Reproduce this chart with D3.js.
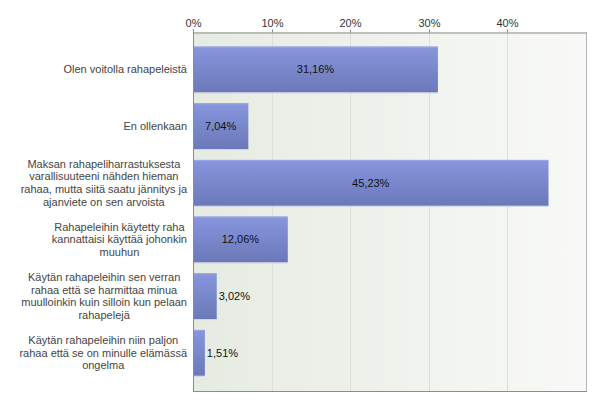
<!DOCTYPE html>
<html><head><meta charset="utf-8">
<script src="https://cdnjs.cloudflare.com/ajax/libs/d3/7.8.5/d3.min.js"></script>
<style>
html,body{margin:0;padding:0;background:#fff;}
svg{display:block;font-family:Arial,"Liberation Sans",sans-serif;}
</style></head>
<body>
<svg id="c" width="600" height="406"></svg>
<script>
const categories = [
  ["Olen voitolla rahapeleistä"],
  ["En ollenkaan"],
  ["Maksan rahapeliharrastuksesta","varallisuuteeni nähden hieman","rahaa, mutta siitä saatu jännitys ja","ajanviete on sen arvoista"],
  ["Rahapeleihin käytetty raha","kannattaisi käyttää johonkin","muuhun"],
  ["Käytän rahapeleihin sen verran","rahaa että se harmittaa minua","muulloinkin kuin silloin kun pelaan","rahapelejä"],
  ["Käytän rahapeleihin niin paljon","rahaa että se on minulle elämässä","ongelma"]
];
const values = [31.16, 7.04, 45.23, 12.06, 3.02, 1.51];
const valueLabels = ["31,16%","7,04%","45,23%","12,06%","3,02%","1,51%"];
const ticks = [0,10,20,30,40];
const tickLabels = ["0%","10%","20%","30%","40%"];

const svg = d3.select("#c");
const L = 193, R = 586, T = 32, B = 391;
const x = d3.scaleLinear().domain([0,50]).range([L,R]);
const y = d3.scaleBand().domain(d3.range(categories.length)).range([41.2,381.2]).paddingInner(0.19).paddingOuter(0.095);

const defs = svg.append("defs");
const bg = defs.append("linearGradient").attr("id","bg").attr("x1",0).attr("x2",1).attr("y1",0).attr("y2",0);
bg.append("stop").attr("offset","0%").attr("stop-color","#e6ebe2");
bg.append("stop").attr("offset","100%").attr("stop-color","#f8f9f6");
const bar = defs.append("linearGradient").attr("id","bar").attr("x1",0).attr("x2",0).attr("y1",0).attr("y2",1);
bar.append("stop").attr("offset","0%").attr("stop-color","#8796de");
bar.append("stop").attr("offset","100%").attr("stop-color","#6b78b8");

svg.append("rect").attr("x",L).attr("y",T).attr("width",R-L).attr("height",B-T).attr("fill","url(#bg)");

// gridlines
svg.append("g").selectAll("line").data(ticks.slice(1)).join("line")
  .attr("x1",d=>Math.round(x(d))+0.5).attr("x2",d=>Math.round(x(d))+0.5)
  .attr("y1",T).attr("y2",B).attr("stroke","#dcdfd9").attr("stroke-width",1);

// axis
const ax = d3.axisTop(x).tickValues(ticks).tickFormat((d,i)=>tickLabels[i]).tickSize(3).tickSizeOuter(0);
const g = svg.append("g").attr("transform",`translate(0,${T+0.5})`).call(ax);
g.select(".domain").attr("stroke","#8c8c8c");
g.selectAll(".tick line").attr("stroke","#8c8c8c");
g.selectAll(".tick text").attr("font-size",11).attr("fill","#333").attr("font-family","Arial,'Liberation Sans',sans-serif");
g.selectAll(".tick").attr("transform",d=>`translate(${Math.round(x(d))+0.5},0)`);

// bars
const bars = svg.append("g");
bars.selectAll("rect.b").data(values).join("rect").attr("class","b")
  .attr("x",L).attr("y",(d,i)=>y(i)).attr("width",d=>x(d)-L).attr("height",y.bandwidth())
  .attr("fill","url(#bar)");
bars.selectAll("line.t").data(values).join("line").attr("class","t")
  .attr("x1",L).attr("x2",d=>x(d)).attr("y1",(d,i)=>y(i)+0.5).attr("y2",(d,i)=>y(i)+0.5)
  .attr("stroke","#9ba7e6");
bars.selectAll("line.s").data(values).join("line").attr("class","s")
  .attr("x1",L).attr("x2",d=>x(d)).attr("y1",(d,i)=>y(i)+y.bandwidth()+0.5).attr("y2",(d,i)=>y(i)+y.bandwidth()+0.5)
  .attr("stroke","#cfd3e6");

// borders
svg.append("line").attr("x1",R+0.5).attr("x2",R+0.5).attr("y1",T).attr("y2",B).attr("stroke","#b4b4b4");
svg.append("line").attr("x1",L).attr("x2",R+1).attr("y1",B+0.5).attr("y2",B+0.5).attr("stroke","#8c8c8c");
svg.append("line").attr("x1",L+0.5).attr("x2",L+0.5).attr("y1",T-3).attr("y2",B+1).attr("stroke","#8c8c8c");

// value labels
svg.append("g").selectAll("text").data(values).join("text")
  .attr("font-size",11).attr("fill","#111").attr("dy","0.35em")
  .attr("y",(d,i)=>y(i)+y.bandwidth()/2)
  .text((d,i)=>valueLabels[i])
  .each(function(d){
    const w = this.getComputedTextLength();
    const bw = x(d)-L;
    const t = d3.select(this);
    if (w + 8 < bw) t.attr("x", L + bw/2).attr("text-anchor","middle");
    else t.attr("x", x(d)+2).attr("text-anchor","start");
  });

// category labels
const lh = 12.6;
categories.forEach((lines,i)=>{
  const cy = y(i)+y.bandwidth()/2;
  const t = svg.append("text").attr("font-size",11).attr("fill","#444").attr("text-anchor","middle");
  const n = lines.length;
  const spans = lines.map((s,k)=> t.append("tspan").attr("y", cy + (k-(n-1)/2)*lh).attr("dy","0.35em").text(s));
  let mw = 0;
  spans.forEach(sp=>{ mw = Math.max(mw, sp.node().getComputedTextLength()); });
  const cx = 187 - mw/2;
  spans.forEach(sp=> sp.attr("x", cx));
});
</script>
</body></html>
